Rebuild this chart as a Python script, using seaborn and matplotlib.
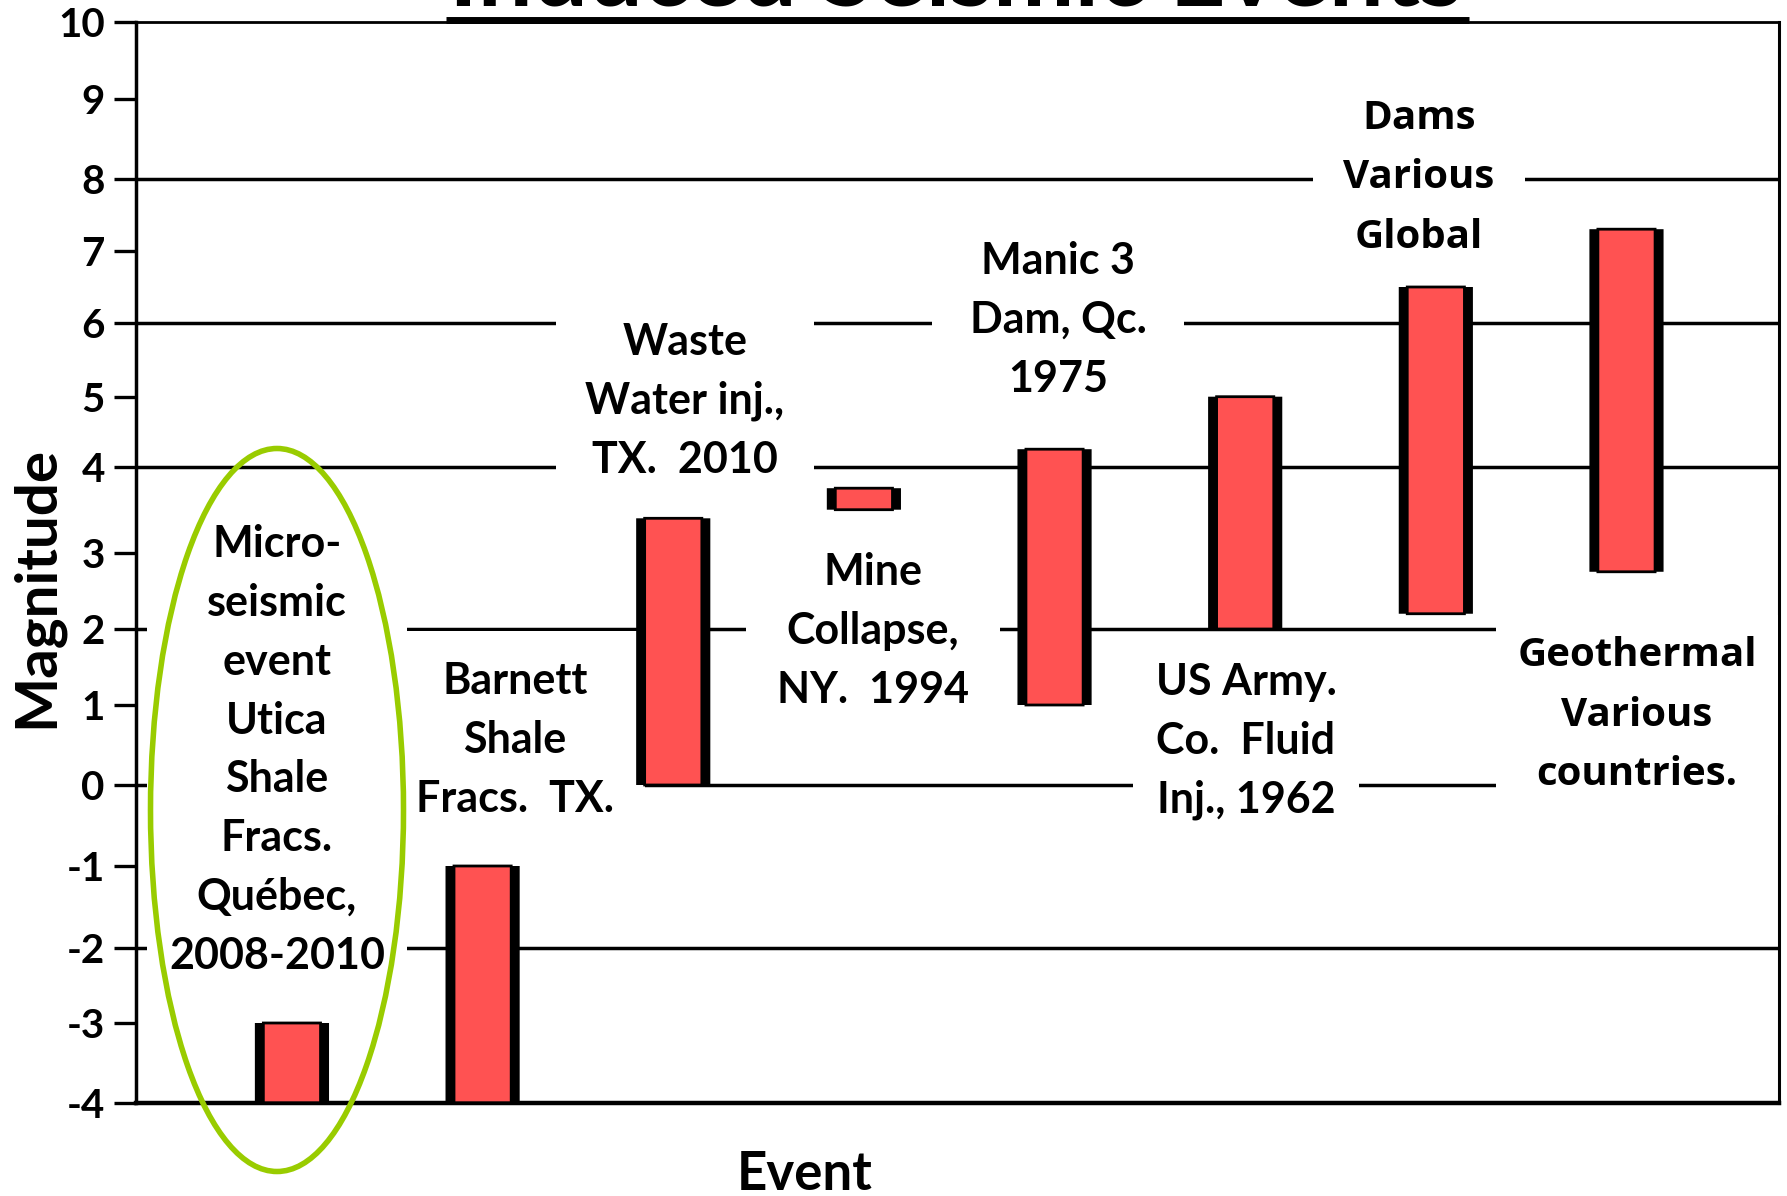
import numpy as np
import pandas as pd
import matplotlib
matplotlib.use("Agg")
import matplotlib.pyplot as plt
from matplotlib.patches import Ellipse
from matplotlib.lines import Line2D
from matplotlib.ticker import NullLocator
import seaborn as sns

# ---- data -------------------------------------------------------------
events = [
    "Micro-\nseismic\nevent\nUtica\nShale\nFracs.\nQuébec,\n2008-2010",
    "Barnett\nShale\nFracs.  TX.",
    "Waste\nWater inj.,\nTX.  2010",
    "Mine\nCollapse,\nNY.  1994",
    "Manic 3\nDam, Qc.\n1975",
    "US Army.\nCo.  Fluid\nInj., 1962",
    "Dams\nVarious\nGlobal",
    "Geothermal\nVarious\ncountries.",
]
mag_low = [-4.0, -4.0, 0.0, 3.5, 1.0, 2.0, 2.2, 2.75]
mag_high = [-3.0, -1.0, 3.4, 3.75, 4.25, 5.0, 6.5, 7.3]
mag_ticks = list(range(-4, 11))
ref_levels = [8, 6, 4, 2, 0, -2]

# ---- layout -----------------------------------------------------------
W, H = 1787, 1196
# hand-drawn magnitude axis: pixel row of each tick (top = 0)
axis_rows = np.array([1102.7, 1023, 948.3, 866, 785, 705, 629, 552.7,
                      466.7, 396.7, 323.3, 250.7, 179, 99, 22])
axis_h = axis_rows[0] - axis_rows
levels = np.array(mag_ticks, dtype=float)


def _extend(v, xs, ys):
    v = np.asarray(v, dtype=float)
    out = np.interp(v, xs, ys)
    lo_slope = (ys[1] - ys[0]) / (xs[1] - xs[0])
    hi_slope = (ys[-1] - ys[-2]) / (xs[-1] - xs[-2])
    out = np.where(v < xs[0], ys[0] + (v - xs[0]) * lo_slope, out)
    out = np.where(v > xs[-1], ys[-1] + (v - xs[-1]) * hi_slope, out)
    return out


def fwd(v):
    return _extend(v, levels, axis_h)


def inv(p):
    return _extend(p, axis_h, levels)


df = pd.DataFrame({"event": events, "low": mag_low, "high": mag_high})
df["span"] = df["high"] - df["low"]

sns.set_theme(style="white")
plt.rcParams["font.family"] = ["Lato", "DejaVu Sans"]
plt.rcParams["font.weight"] = "bold"

fig = plt.figure(figsize=(W / 100, H / 100), dpi=100)
ax = fig.add_axes([136 / W, 1 - 1102.7 / H, (1779 - 136) / W, (1102.7 - 22) / H])
ax.set_yscale("function", functions=(fwd, inv))

# dark frame of each bar, then the red core with a thin outline
sns.barplot(data=df, x="event", y="span", order=events, bottom=df["low"].values,
            width=0.389, color="black", saturation=1, linewidth=0, snap=False,
            errorbar=None, ax=ax, zorder=3.5)
sns.barplot(data=df, x="event", y="span", order=events, bottom=df["low"].values,
            width=0.30, color="#FF5252", saturation=1, edgecolor="black",
            linewidth=2, snap=False, errorbar=None, ax=ax, zorder=3.6)

for lv in ref_levels:
    ax.axhline(lv, color="black", lw=2.5, zorder=0.5)

ax.set_ylim(-4, 10)
ax.set_xlim(-0.818, 7.80)
ax.set_yticks(mag_ticks, labels=[str(t) for t in mag_ticks])
ax.yaxis.set_minor_locator(NullLocator())
ax.set_xticks([])
ax.tick_params(axis="y", left=True, length=15.5, width=2.4, pad=7,
               labelsize=29, colors="black", direction="out")
for side, lw in (("left", 2.5), ("bottom", 3.2), ("top", 2.0), ("right", 2.2)):
    ax.spines[side].set_color("black")
    ax.spines[side].set_linewidth(lw)
    ax.spines[side].set_visible(True)

ax.set_ylabel("Magnitude", fontsize=42, fontweight="bold", color="black")
ax.yaxis.set_label_coords(-0.044, 0.477)
ax.set_xlabel("Event", fontsize=38, fontweight="bold", color="black")
ax.xaxis.set_label_coords(0.407, -0.044)

# event descriptions on white panels
label_spots = [
    (277, 750, "Lato", 31, 16),
    (515, 740, "Lato", 31, 22),
    (685, 401, "Lato", 31, 21),
    (873, 631, "Lato", 31, 22),
    (1058, 320, "Lato", 31, 27),
    (1246, 741, "Lato", 31, 16),
    (1419, 178, "Open Sans", 29, 22),
    (1637, 715, "Open Sans", 29, 15),
]
for text, (px, py, fam, fs, pad) in zip(events, label_spots):
    ax.text(px / W, 1 - py / H, text, transform=fig.transFigure,
            ha="center", va="center", fontsize=fs, fontweight="bold",
            family=[fam, "DejaVu Sans"], linespacing=1.57 if fam == "Lato" else 1.67,
            color="black", zorder=3,
            bbox=dict(facecolor="white", edgecolor="none", pad=pad))

# highlight ring around the Utica shale entry
fig.add_artist(Ellipse((277 / W, 1 - 810 / H), 253 / W, 723 / H,
                       transform=fig.transFigure, fill=False,
                       edgecolor="#99CC00", linewidth=4, zorder=5))

# title sitting at the very top edge, underlined
fig.text(0.535, 1 - 6 / H, "Induced Seismic Events", ha="center", va="baseline",
         fontsize=70, fontweight="bold", color="black")
fig.add_artist(Line2D([446 / W, 1469 / W], [1 - 19.5 / H, 1 - 19.5 / H],
                      transform=fig.transFigure, color="black", lw=5,
                      solid_capstyle="butt", zorder=6))

fig.savefig("out.png", dpi=100)
